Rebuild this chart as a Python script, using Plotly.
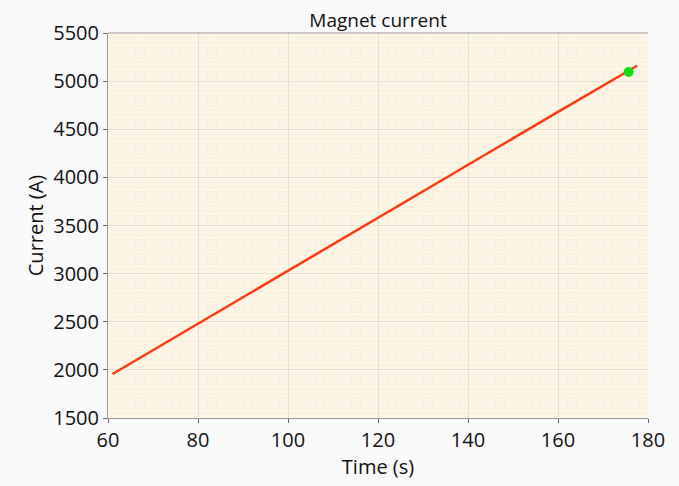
import plotly.graph_objects as go

time_s = [61.0, 70.0, 80.0, 90.0, 100.0, 110.0, 120.0, 130.0, 140.0, 150.0, 160.0, 170.0, 177.6]
current_a = [1957, 2205, 2485, 2760, 3030, 3305, 3580, 3855, 4130, 4405, 4680, 4955, 5160]
marker_time = [175.7]
marker_current = [5095]

font = "Open Sans, Noto Sans, sans-serif"

fig = go.Figure()
fig.add_trace(go.Scatter(x=time_s, y=current_a, mode="lines",
                         line=dict(color="#ff3a12", width=2.5), showlegend=False))
fig.add_trace(go.Scatter(x=marker_time, y=marker_current, mode="markers",
                         marker=dict(color="#11dd11", size=10), showlegend=False))

fig.update_layout(
    width=679, height=486,
    margin=dict(l=108, r=31, t=33, b=68),
    paper_bgcolor="#f9f9f9",
    plot_bgcolor="#fdf6e6",
    title=dict(text="Magnet current", x=0.5, xref="paper", xanchor="center",
               y=1, yref="paper", yanchor="bottom", pad=dict(b=6),
               font=dict(family=font, size=19, color="#111")),
    font=dict(family=font, color="#111"),
)
fig.update_xaxes(
    range=[60, 180], tickvals=[60, 80, 100, 120, 140, 160, 180],
    title=dict(text="Time (s)", font=dict(size=20), standoff=4),
    tickfont=dict(size=20),
    showgrid=True, gridcolor="#e6e0d2", gridwidth=1,
    minor=dict(dtick=2, showgrid=True, gridcolor="#f8f0de", gridwidth=1),
    ticks="outside", ticklen=4, tickcolor="#666",
    showline=True, linecolor="#999", linewidth=1, mirror=False, zeroline=False,
)
fig.update_yaxes(
    range=[1500, 5500], tickvals=[1500, 2000, 2500, 3000, 3500, 4000, 4500, 5000, 5500],
    title=dict(text="Current (A)", font=dict(size=20), standoff=4),
    tickfont=dict(size=20),
    showgrid=True, gridcolor="#e6e0d2", gridwidth=1,
    minor=dict(dtick=50, showgrid=True, gridcolor="#f8f0de", gridwidth=1),
    ticks="outside", ticklen=4, tickcolor="#666",
    showline=True, linecolor="#999", linewidth=1, mirror=False, zeroline=False,
)
fig.add_shape(type="line", xref="paper", yref="paper", x0=0, x1=1, y0=1, y1=1,
              line=dict(color="#999", width=1))

fig.write_html("out.html")
